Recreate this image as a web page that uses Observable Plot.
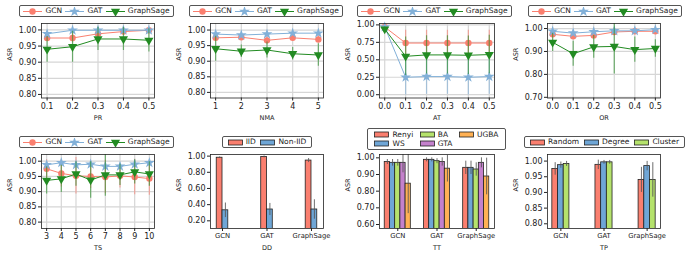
<!DOCTYPE html>
<html><head><meta charset="utf-8">
<script src="https://cdn.jsdelivr.net/npm/d3@7"></script>
<script src="https://cdn.jsdelivr.net/npm/@observablehq/plot@0.6"></script>
<style>
body{margin:0;background:#fff;}
#fig{position:relative;width:692px;height:258px;background:#fff;font-family:"DejaVu Sans",sans-serif;overflow:hidden;}
#fig > svg{position:absolute;left:0;top:0;}
.leg{position:absolute;box-sizing:border-box;border:0.8px solid #555;border-radius:2px;background:#fff;font-size:7.5px;color:#222;display:grid;grid-auto-flow:column;justify-content:space-evenly;align-content:center;align-items:center;}
.leg .it{display:flex;align-items:center;gap:3px;white-space:nowrap;line-height:1;}
.leg svg{display:block;}
</style></head>
<body><div id="fig"></div>
<script>
// ---------------- data ----------------
// PR
const prX = [0.1, 0.2, 0.3, 0.4, 0.5];
const prGCN = [0.975, 0.975, 0.988, 0.995, 0.999];
const prGCNErr = [0.010, 0.015, 0.008, 0.005, 0.002];
const prGAT = [0.988, 0.999, 0.999, 0.999, 0.999];
const prGATErr = [0.005, 0.002, 0.001, 0.001, 0.001];
const prSage = [0.940, 0.948, 0.972, 0.972, 0.968];
const prSageErr = [0.040, 0.048, 0.036, 0.036, 0.036];
// NMA
const nmaX = [1, 2, 3, 4, 5];
const nmaGCN = [0.975, 0.977, 0.967, 0.975, 0.970];
const nmaGCNErr = [0.010, 0.010, 0.012, 0.010, 0.012];
const nmaGAT = [0.987, 0.984, 0.987, 0.990, 0.990];
const nmaGATErr = [0.006, 0.006, 0.005, 0.005, 0.005];
const nmaSage = [0.940, 0.932, 0.936, 0.924, 0.920];
const nmaSageErr = [0.040, 0.020, 0.026, 0.020, 0.036];
// AT
const atX = [0.0, 0.1, 0.2, 0.3, 0.4, 0.5];
const atGCN = [0.970, 0.740, 0.740, 0.740, 0.740, 0.740];
const atGCNErr = [0.020, 0.185, 0.185, 0.185, 0.185, 0.185];
const atGAT = [0.970, 0.250, 0.260, 0.260, 0.250, 0.260];
const atGATErr = [0.020, 0.255, 0.255, 0.255, 0.255, 0.255];
const atSage = [0.940, 0.550, 0.570, 0.570, 0.565, 0.575];
const atSageErr = [0.030, 0.275, 0.275, 0.275, 0.275, 0.275];
// OR
const orX = [0.0, 0.1, 0.2, 0.3, 0.4, 0.5];
const orGCN = [0.975, 0.966, 0.970, 0.985, 0.988, 0.988];
const orGCNErr = [0.010, 0.012, 0.010, 0.008, 0.006, 0.006];
const orGAT = [0.988, 0.980, 0.986, 0.990, 0.990, 0.995];
const orGATErr = [0.006, 0.006, 0.005, 0.004, 0.004, 0.004];
const orSage = [0.940, 0.890, 0.920, 0.922, 0.908, 0.913];
const orSageErr = [0.040, 0.055, 0.050, 0.120, 0.055, 0.038];
// TS
const tsX = [3, 4, 5, 6, 7, 8, 9, 10];
const tsGCN = [0.975, 0.960, 0.952, 0.950, 0.948, 0.952, 0.948, 0.943];
const tsGCNErr = [0.030, 0.045, 0.060, 0.040, 0.055, 0.040, 0.058, 0.055];
const tsGAT = [0.988, 0.995, 0.988, 0.990, 0.983, 0.983, 0.990, 0.995];
const tsGATErr = [0.008, 0.005, 0.008, 0.008, 0.010, 0.010, 0.008, 0.005];
const tsSage = [0.937, 0.942, 0.958, 0.938, 0.955, 0.955, 0.965, 0.958];
const tsSageErr = [0.045, 0.045, 0.040, 0.060, 0.070, 0.035, 0.040, 0.040];
// DD
const ddCats = ["GCN", "GAT", "GraphSage"];
const ddGroups = ["IID", "Non-IID"];
const ddIID = [0.980, 0.990, 0.945];
const ddIIDErr = [0.010, 0.012, 0.025];
const ddNon = [0.330, 0.340, 0.340];
const ddNonErr = [0.090, 0.075, 0.120];
// TT
const ttCats = ["GCN", "GAT", "GraphSage"];
const ttGroups = ["Renyi", "WS", "BA", "GTA", "UGBA"];
const ttRenyi = [0.975, 0.988, 0.940];
const ttRenyiErr = [0.015, 0.012, 0.040];
const ttWS = [0.970, 0.988, 0.940];
const ttWSErr = [0.020, 0.012, 0.040];
const ttBA = [0.970, 0.980, 0.930];
const ttBAErr = [0.020, 0.015, 0.040];
const ttGTA = [0.970, 0.975, 0.970];
const ttGTAErr = [0.060, 0.025, 0.030];
const ttUGBA = [0.845, 0.935, 0.888];
const ttUGBAErr = [0.180, 0.080, 0.110];
// TP
const tpCats = ["GCN", "GAT", "GraphSage"];
const tpGroups = ["Random", "Degree", "Cluster"];
const tpRandom = [0.975, 0.988, 0.940];
const tpRandomErr = [0.020, 0.015, 0.040];
const tpDegree = [0.987, 0.996, 0.984];
const tpDegreeErr = [0.010, 0.006, 0.015];
const tpCluster = [0.991, 0.996, 0.940];
const tpClusterErr = [0.008, 0.006, 0.055];

// ---------------- style ----------------
const W = 692, H = 258;
const FONT = "DejaVu Sans";
const TICK_FS = 8, CAT_FS = 6.8, LABEL_FS = 6.5;
const INK = "#222";
const cGCN = "#fa7f6f", cGAT = "#82b0d8", cSage = "#228b22";
const bRed = "#fa7f6f", bBlue = "#6fa6d6", bGreen = "#b5e26c", bPurple = "#c481cc", bOrange = "#ffb154";
const f2 = d3.format(".2f"), f1 = d3.format(".1f");
const fig = document.getElementById("fig");

function axesMarks(xTicks, xFmt, xFs, yTicks, yFmt, xlabel) {
  return [
    Plot.frame({stroke: INK, strokeWidth: 0.8}),
    Plot.axisX(xTicks, {tickFormat: xFmt, tickSize: 3, tickPadding: 2, fontSize: xFs, stroke: INK, fill: INK, label: null}),
    Plot.axisY(yTicks, {tickFormat: yFmt, tickSize: 3, tickPadding: 2, fontSize: TICK_FS, stroke: INK, fill: INK, label: null}),
    Plot.text(["ASR"], {frameAnchor: "left", dx: -32, rotate: -90, fontSize: LABEL_FS, fill: INK}),
    Plot.text([xlabel], {frameAnchor: "bottom", dy: 21.5, fontSize: LABEL_FS, fill: INK})
  ];
}

function mount(frame, xDomain, yDomain, marks) {
  const [L, R, T, B] = frame;
  const p = Plot.plot({
    width: W, height: H,
    marginLeft: L, marginRight: W - R, marginTop: T, marginBottom: H - B,
    x: {type: "linear", domain: xDomain},
    y: {type: "linear", domain: yDomain},
    style: {fontFamily: FONT, fontSize: TICK_FS + "px", background: "transparent", color: INK, overflow: "visible"},
    marks
  });
  p.style.position = "absolute";
  p.style.left = "0px";
  p.style.top = "0px";
  fig.appendChild(p);
}

function linePanel(o) {
  const marks = [
    Plot.gridX(o.xTicks, {stroke: "#d6d6d6", strokeOpacity: 1, strokeWidth: 1.2}),
    Plot.gridY(o.yTicks, {stroke: "#d6d6d6", strokeOpacity: 1, strokeWidth: 1.2})
  ];
  for (const s of o.series) {
    const rows = o.xs.map((x, i) => ({x, y: s.y[i], e: s.err[i]}));
    marks.push(
      Plot.ruleX(rows, {x: "x", y1: d => d.y - d.e, y2: d => d.y + d.e, stroke: s.color, strokeOpacity: 0.6, strokeWidth: 1.2, clip: true}),
      Plot.line(rows, {x: "x", y: "y", stroke: s.color, strokeWidth: 1}),
      Plot.dot(rows, {x: "x", y: "y", symbol: s.symbol, fill: s.color, stroke: "none", r: s.r, rotate: s.rotate || 0})
    );
  }
  marks.push(...axesMarks(o.xTicks, o.xFmt, TICK_FS, o.yTicks, o.yFmt, o.xlabel));
  mount(o.frame, o.xDomain, o.yDomain, marks);
}

function barPanel(o) {
  const n = o.groups.length, w = o.w;
  const marks = [];
  const errMarks = [];
  o.groups.forEach((g, k) => {
    const rows = o.cats.map((c, i) => {
      const x1 = i + (k - n / 2) * w;
      return {x1, x2: x1 + w, xc: x1 + w / 2, v: o.values[k][i], e: o.errs[k][i]};
    });
    marks.push(Plot.rectY(rows, {x1: "x1", x2: "x2", y1: 0, y2: "v", fill: o.colors[k], stroke: INK, strokeWidth: 0.8, clip: true}));
    errMarks.push(Plot.ruleX(rows, {x: "xc", y1: d => d.v - d.e, y2: d => d.v + d.e, stroke: "#555", strokeOpacity: 0.85, strokeWidth: 1, clip: true}));
  });
  marks.push(...errMarks);
  marks.push(...axesMarks(o.cats.map((c, i) => i), i => o.cats[i], CAT_FS, o.yTicks, o.yFmt, o.xlabel));
  mount(o.frame, o.xDomain, o.yDomain, marks);
}

// legends
function symPath(sym, r) { return d3.symbol(sym, Math.PI * r * r)(); }
function lineSwatch(color, sym, r, rot) {
  return `<svg width="19" height="9"><line x1="0" x2="19" y1="4.5" y2="4.5" stroke="${color}" stroke-width="1"/><path d="${symPath(sym, r)}" transform="translate(9.5,4.5) rotate(${rot})" fill="${color}"/></svg>`;
}
function barSwatch(color) {
  return `<svg width="15" height="7"><rect x="0.5" y="1" width="14" height="5" fill="${color}" stroke="${INK}" stroke-width="0.8"/></svg>`;
}
function legend(box, items, rows) {
  const d = document.createElement("div");
  d.className = "leg";
  d.style.left = box[0] + "px"; d.style.top = box[1] + "px";
  d.style.width = box[2] + "px"; d.style.height = box[3] + "px";
  d.style.gridTemplateRows = `repeat(${rows}, auto)`;
  d.style.rowGap = "1px";
  d.innerHTML = items.map(it => `<div class="it">${it.sw}<span>${it.label}</span></div>`).join("");
  fig.appendChild(d);
}
const lineLegendItems = [
  {sw: lineSwatch(cGCN, d3.symbolCircle, 3.2, 0), label: "GCN"},
  {sw: lineSwatch(cGAT, d3.symbolStar, 3.4, 0), label: "GAT"},
  {sw: lineSwatch(cSage, d3.symbolTriangle, 3.4, 180), label: "GraphSage"}
];

const series = (gcn, gcnE, gat, gatE, sage, sageE) => [
  {y: gcn, err: gcnE, color: cGCN, symbol: "circle", r: 3.2},
  {y: gat, err: gatE, color: cGAT, symbol: "star", r: 3.4},
  {y: sage, err: sageE, color: cSage, symbol: "triangle", r: 3.4, rotate: 180}
];

const ROW1 = [23, 97.5], ROW2 = [154, 228];
const C1 = [41, 154], C2 = [210, 323], C3 = [379, 494], C4 = [547, 660];

linePanel({frame: [...C1, ...ROW1], xs: prX, series: series(prGCN, prGCNErr, prGAT, prGATErr, prSage, prSageErr),
  xDomain: [0.078, 0.522], yDomain: [0.789, 1.02], xTicks: prX, xFmt: f1, yTicks: [0.8, 0.85, 0.9, 0.95, 1.0], yFmt: f2, xlabel: "PR"});
linePanel({frame: [...C2, ...ROW1], xs: nmaX, series: series(nmaGCN, nmaGCNErr, nmaGAT, nmaGATErr, nmaSage, nmaSageErr),
  xDomain: [0.8, 5.2], yDomain: [0.782, 1.021], xTicks: nmaX, xFmt: d3.format("d"), yTicks: [0.8, 0.85, 0.9, 0.95, 1.0], yFmt: f2, xlabel: "NMA"});
linePanel({frame: [...C3, ...ROW1], xs: atX, series: series(atGCN, atGCNErr, atGAT, atGATErr, atSage, atSageErr),
  xDomain: [-0.025, 0.525], yDomain: [-0.047, 1.02], xTicks: atX, xFmt: f1, yTicks: [0, 0.25, 0.5, 0.75, 1.0], yFmt: f2, xlabel: "AT"});
linePanel({frame: [...C4, ...ROW1], xs: orX, series: series(orGCN, orGCNErr, orGAT, orGATErr, orSage, orSageErr),
  xDomain: [-0.025, 0.525], yDomain: [0.697, 1.022], xTicks: orX, xFmt: f1, yTicks: [0.7, 0.8, 0.9, 1.0], yFmt: f2, xlabel: "OR"});
linePanel({frame: [...C1, ...ROW2], xs: tsX, series: series(tsGCN, tsGCNErr, tsGAT, tsGATErr, tsSage, tsSageErr),
  xDomain: [2.65, 10.35], yDomain: [0.779, 1.022], xTicks: tsX, xFmt: d3.format("d"), yTicks: [0.8, 0.85, 0.9, 0.95, 1.0], yFmt: f2, xlabel: "TS"});

barPanel({frame: [...C2, ...ROW2], cats: ddCats, groups: ddGroups, values: [ddIID, ddNon], errs: [ddIIDErr, ddNonErr],
  colors: [bRed, bBlue], w: 0.13, xDomain: [-0.27, 2.27], yDomain: [0.105, 1.02], yTicks: [0.2, 0.4, 0.6, 0.8, 1.0], yFmt: f2, xlabel: "DD"});
barPanel({frame: [...C3, ...ROW2], cats: ttCats, groups: ttGroups,
  values: [ttRenyi, ttWS, ttBA, ttGTA, ttUGBA], errs: [ttRenyiErr, ttWSErr, ttBAErr, ttGTAErr, ttUGBAErr],
  colors: [bRed, bBlue, bGreen, bPurple, bOrange], w: 0.133, xDomain: [-0.466, 2.466], yDomain: [0.576, 1.02], yTicks: [0.6, 0.7, 0.8, 0.9, 1.0], yFmt: f2, xlabel: "TT"});
barPanel({frame: [...C4, ...ROW2], cats: tpCats, groups: tpGroups,
  values: [tpRandom, tpDegree, tpCluster], errs: [tpRandomErr, tpDegreeErr, tpClusterErr],
  colors: [bRed, bBlue, bGreen], w: 0.132, xDomain: [-0.31, 2.31], yDomain: [0.785, 1.021], yTicks: [0.8, 0.85, 0.9, 0.95, 1.0], yFmt: f2, xlabel: "TP"});

legend([19, 5, 155, 12], lineLegendItems, 1);
legend([189, 5, 154, 12], lineLegendItems, 1);
legend([357, 5, 155, 12], lineLegendItems, 1);
legend([528, 5, 154, 12], lineLegendItems, 1);
legend([19, 136, 155, 12], lineLegendItems, 1);
legend([222, 136, 90, 12], ddGroups.map((g, k) => ({sw: barSwatch([bRed, bBlue][k]), label: g})), 1);
legend([367, 128, 139, 22], ttGroups.map((g, k) => ({sw: barSwatch([bRed, bBlue, bGreen, bPurple, bOrange][k]), label: g})), 2);
legend([524, 136, 161, 12], tpGroups.map((g, k) => ({sw: barSwatch([bRed, bBlue, bGreen][k]), label: g})), 1);
</script>
</body></html>
